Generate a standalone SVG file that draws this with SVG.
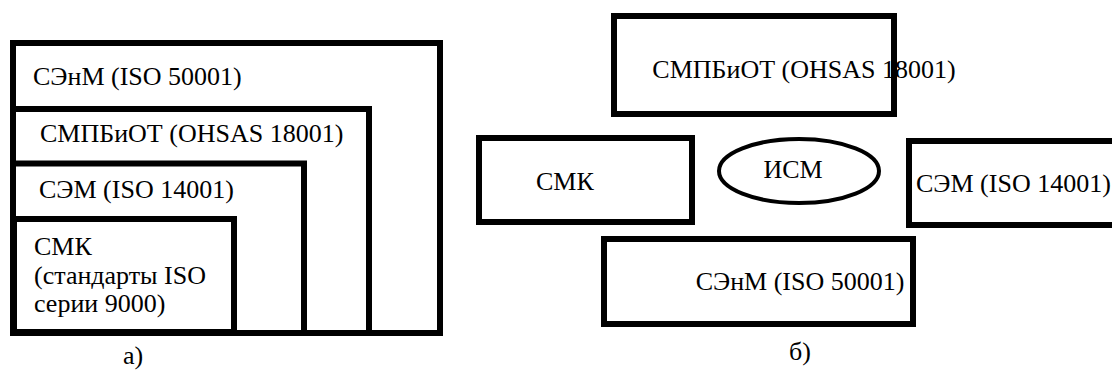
<svg xmlns="http://www.w3.org/2000/svg" width="1112" height="371" viewBox="0 0 1112 371">
  <style>
    .box { fill: none; stroke: #000; stroke-width: 6; }
    text { font-size: 26px; fill: #000; }
    .mid { text-anchor: middle; }
  </style>
  <rect width="1112" height="371" fill="#fff"/>

  <g font-family="Liberation Serif, Times New Roman, serif">
  <!-- a) nested systems -->
  <g id="a-enms">
    <rect class="box" x="13" y="43" width="427" height="290"/>
    <text x="33" y="85">СЭнМ (ISO 50001)</text>
  </g>
  <g id="a-ohsas">
    <rect class="box" x="13" y="109" width="356" height="224"/>
    <text x="40" y="142">СМПБиОТ (OHSAS 18001)</text>
  </g>
  <g id="a-ems">
    <rect class="box" x="13" y="163.5" width="291" height="169.5"/>
    <text x="39" y="198">СЭМ (ISO 14001)</text>
  </g>
  <g id="a-qms">
    <rect class="box" x="14" y="219" width="220" height="113" stroke-width="8"/>
    <text x="34" y="255">СМК</text>
    <text x="34" y="284">(стандарты ISO</text>
    <text x="34" y="312">серии 9000)</text>
  </g>
  <text class="mid" x="133" y="364">а)</text>

  <!-- б) integrated system -->
  <g id="b-ohsas">
    <rect class="box" x="614" y="16" width="280" height="98"/>
    <text class="mid" x="804" y="78">СМПБиОТ (OHSAS 18001)</text>
  </g>
  <g id="b-qms">
    <rect class="box" x="479" y="138" width="213" height="84"/>
    <text x="536" y="190">СМК</text>
  </g>
  <g id="b-ims">
    <ellipse cx="799" cy="171" rx="80" ry="32" fill="none" stroke="#000" stroke-width="4"/>
    <text class="mid" x="793" y="178">ИСМ</text>
  </g>
  <g id="b-ems">
    <rect class="box" x="909" y="141" width="220" height="84"/>
    <text x="916" y="192">СЭМ (ISO 14001)</text>
  </g>
  <g id="b-enms">
    <rect class="box" x="604" y="239" width="309" height="85"/>
    <text class="mid" x="800" y="290">СЭнМ (ISO 50001)</text>
  </g>
  <text class="mid" x="800" y="360">б)</text>
  </g>

  <g id="connectors"/>
</svg>
